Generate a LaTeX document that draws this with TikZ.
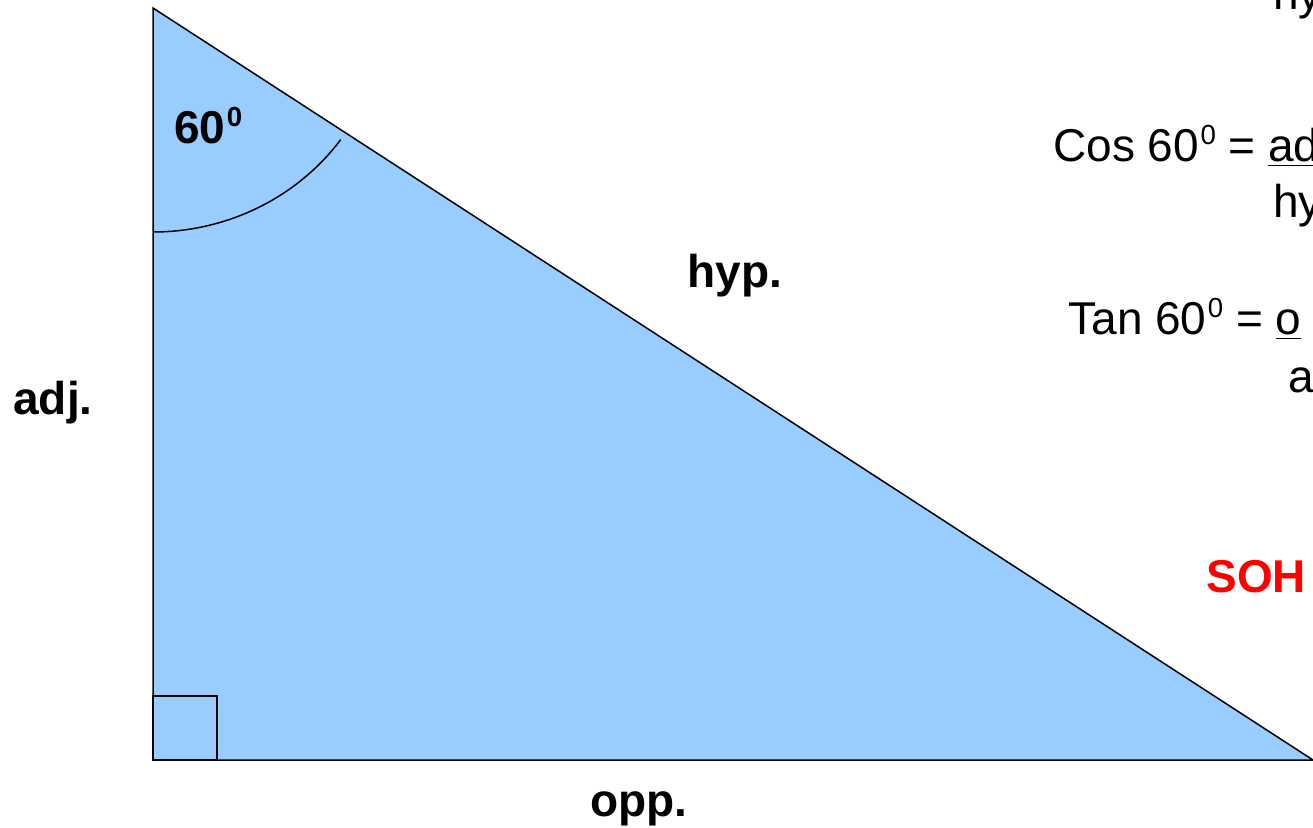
\documentclass[tikz,border=0pt]{standalone}
\usepackage{fontspec}
\setmainfont{Liberation Sans}
\usepackage{xcolor}
\usepackage{tikz}
\definecolor{triblue}{HTML}{99CCFF}
\definecolor{sohc}{HTML}{FF0000}
\tikzset{
  sd/.style={line width=0.75pt,black},
  lbl/.style={anchor=base west,inner sep=0pt,font=\fontsize{23}{28}\selectfont\bfseries},
  eqn/.style={anchor=base west,inner sep=0pt,font=\fontsize{23}{28}\selectfont}
}
\newcommand{\dgr}{\kern0.03em\raisebox{0.37em}{\fontsize{13.8}{14}\selectfont 0}}
\begin{document}
\begin{tikzpicture}[x=0.5pt,y=-0.5pt]
\useasboundingbox (0,0) rectangle (1313,828);
\clip (0,0) rectangle (1313,828);
\coordinate (A) at (153,8);
\coordinate (B) at (153,760);
\coordinate (C) at (1313,760);
\fill[triblue] (A)--(B)--(C)--cycle;
\draw[sd] (A)--(B)--(C)--cycle;
\draw[sd] (B) rectangle ++(64,-64);
\draw[sd] (A) ++(0,224) arc[start angle=90,end angle=36,x radius=232,y radius=224];
\node[lbl] (t60) at (174,144) {60\dgr};
\node[lbl] (thyp) at (687,288) {hyp.};
\node[lbl] (tadj) at (13,415) {adj.};
\node[lbl] (topp) at (590,816) {opp.};
\node[eqn] (tsind) at (1273,10) {hy};
\node[eqn] (tcos) at (1053,162) {Cos 60\dgr{} = \underline{ad}};
\node[eqn] (tcosd) at (1273,218) {hy};
\node[eqn] (ttan) at (1068,335) {Tan 60\dgr{} = \underline{o}};
\node[eqn] (ttand) at (1288,393) {a};
\node[lbl,text=sohc] (tsoh) at (1206,593) {SOH};
\end{tikzpicture}
\end{document}
